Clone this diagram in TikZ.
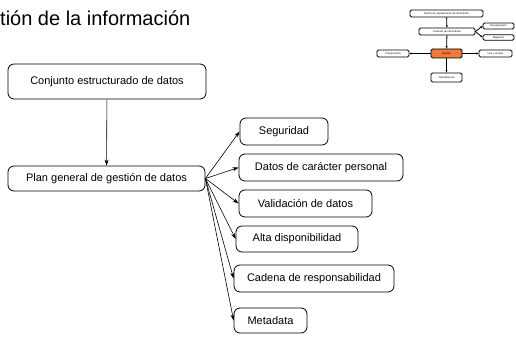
\documentclass[tikz,border=0pt]{standalone}
\usepackage{fontspec}
\setmainfont{Liberation Sans}
\usetikzlibrary{arrows.meta}

\begin{document}
\begin{tikzpicture}[x=1pt,y=-1pt,
    caja/.style={draw,rounded corners=6pt,line width=0.8pt,fill=white,inner sep=0pt,align=center,font=\fontsize{11}{13}\selectfont},
    flecha/.style={-{Stealth[length=6pt,width=4pt]},line width=0.6pt},
    mini/.style={draw,rounded corners=1.5pt,line width=0.8pt,fill=white,inner sep=0pt,minimum height=7pt,font=\fontsize{2.6}{3}\selectfont},
    miniflecha/.style={-{Stealth[length=2.5pt,width=2pt]},line width=0.8pt}]
    \useasboundingbox (0,0) rectangle (516,337);
    \clip (0,0) rectangle (516,337);
    \node[anchor=base west,inner sep=0pt,font=\fontsize{20}{22}\selectfont] (titulo) at (0,26) {tión de la información};

    % esquema principal
    \node[caja,minimum width=198,minimum height=35] (conjunto) at (107,81.5) {Conjunto estructurado de datos};
    \node[caja,minimum width=197,minimum height=25] (plan) at (106.5,178.5) {Plan general de gestión de datos};
    \draw[flecha] (conjunto) -- (plan);

    \node[caja,minimum width=88,minimum height=27] (seguridad) at (284,131.5) {Seguridad};
    \node[caja,minimum width=164,minimum height=27] (personal) at (321,167.5) {Datos de carácter personal};
    \node[caja,minimum width=133,minimum height=27] (validacion) at (305.5,203.5) {Validación de datos};
    \node[caja,minimum width=122,minimum height=26] (alta) at (297,239) {Alta disponibilidad};
    \node[caja,minimum width=160,minimum height=27] (cadena) at (314,278.5) {Cadena de responsabilidad};
    \node[caja,minimum width=73,minimum height=25] (metadata) at (270.5,320.5) {Metadata};

    \foreach \destino in {seguridad,personal,validacion,alta,cadena,metadata}
        \draw[flecha] (plan.east) -- (\destino.west);

    % mapa pequeño
    \node[mini,minimum width=73] (diseno) at (446.5,13.5) {Diseño de arquitecturas de información};
    \node[mini,minimum width=56] (creacion) at (447,31.5) {Creación de información};
    \node[mini,minimum width=31,minimum height=6pt] (recuperacion) at (498.5,26) {Recuperación};
    \node[mini,minimum width=31,minimum height=5.5pt] (migracion) at (498.5,37.5) {Migración};
    \node[mini,minimum width=31,minimum height=9pt,fill={rgb,255:red,240;green,122;blue,60}] (gestion) at (446.5,53.5) {Gestión};
    \node[mini,minimum width=32] (preservacion) at (393,53.5) {Preservación};
    \node[mini,minimum width=33] (uso) at (495.5,53.5) {Uso y acceso};
    \node[mini,minimum width=31,minimum height=9pt] (transferencia) at (446.5,77.5) {Transferencia};
    \draw[miniflecha] (diseno) -- (creacion);
    \draw[miniflecha] (creacion) -- (gestion);
    \draw[miniflecha] (creacion.east) -- (recuperacion.west);
    \draw[miniflecha] (creacion.east) -- (migracion.west);
    \draw[miniflecha] (gestion) -- (preservacion);
    \draw[miniflecha] (gestion) -- (uso);
    \draw[miniflecha] (gestion) -- (transferencia);
\end{tikzpicture}
\end{document}
